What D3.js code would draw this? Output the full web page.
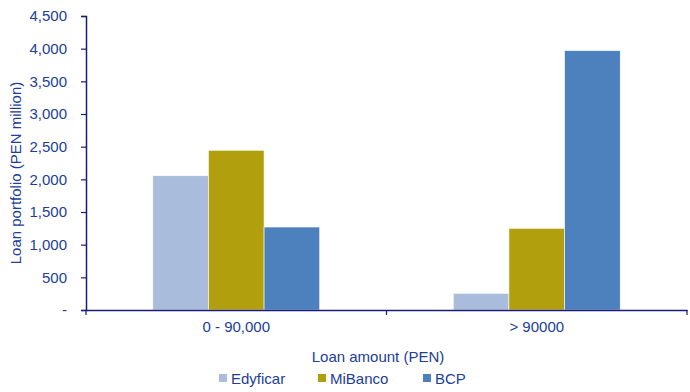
<!DOCTYPE html>
<html><head><meta charset="utf-8">
<script src="https://cdn.jsdelivr.net/npm/d3@7"></script>
<style>body{margin:0;background:#fff}svg{display:block;font-family:"Liberation Sans",Arial,sans-serif}</style>
</head><body><svg id="c" width="690" height="392"></svg>
<script>
const categories = ["0 - 90,000", "> 90000"];
const seriesNames = ["Edyficar", "MiBanco", "BCP"];
const edyficar = [2055, 255];
const mibanco = [2445, 1250];
const bcp = [1270, 3970];
const yTicks = [0, 500, 1000, 1500, 2000, 2500, 3000, 3500, 4000, 4500];
const colors = ["#A9BCDB", "#B19F0D", "#4D81BD"];
const textColor = "#203E98";
const axisColor = "#1A1A7A";
const fs = "15px";

const svg = d3.select("#c");
const m = {l: 86, r: 3, t: 16, b: 82};
const W = 690, H = 392;
const x = d3.scaleBand().domain(categories).range([m.l, W - m.r]).paddingInner(0).paddingOuter(0);
const y = d3.scaleLinear().domain([0, 4500]).range([H - m.b, m.t]);
const xs = d3.scaleBand().domain(seriesNames).range([0, x.bandwidth()]).paddingInner(0).paddingOuter(1.2);

const series = [edyficar, mibanco, bcp];
series.forEach((vals, si) => {
  svg.append("g").selectAll("rect").data(vals).join("rect")
    .attr("x", (d, i) => x(categories[i]) + xs(seriesNames[si]))
    .attr("y", d => y(d))
    .attr("width", xs.bandwidth())
    .attr("height", d => y(0) - y(d))
    .attr("fill", colors[si])
    .attr("stroke", "#fff").attr("stroke-width", 0.6);
});

const yAxis = svg.append("g").attr("transform", `translate(${m.l},0)`)
  .call(d3.axisLeft(y).tickValues(yTicks).tickSize(5).tickPadding(14)
    .tickFormat(d => d === 0 ? "-" : d3.format(",")(d)));
yAxis.select(".domain").attr("stroke", axisColor).attr("stroke-width", 1.5);
yAxis.selectAll(".tick line").attr("stroke", axisColor).attr("stroke-width", 1.2);
yAxis.selectAll("text").attr("fill", textColor).style("font-size", fs)
  .style("font-family", '"Liberation Sans",Arial,sans-serif');

const xAxis = svg.append("g").attr("transform", `translate(0,${y(0)})`)
  .call(d3.axisBottom(x).tickSize(0).tickPadding(11));
xAxis.select(".domain").attr("stroke", axisColor).attr("stroke-width", 1.5);
xAxis.selectAll("text").attr("fill", textColor).style("font-size", fs)
  .style("font-family", '"Liberation Sans",Arial,sans-serif');
const bounds = [m.l, x(categories[1]), W - m.r];
svg.append("g").selectAll("line").data(bounds).join("line")
  .attr("x1", d => d).attr("x2", d => d)
  .attr("y1", y(0)).attr("y2", y(0) + 5)
  .attr("stroke", axisColor).attr("stroke-width", 1.2);

svg.append("text").attr("transform", `translate(21,173) rotate(-90)`)
  .attr("text-anchor", "middle").attr("fill", textColor).style("font-size", fs)
  .text("Loan portfolio (PEN million)");

svg.append("text").attr("x", 378).attr("y", 362).attr("text-anchor", "middle")
  .attr("fill", textColor).style("font-size", fs).text("Loan amount (PEN)");

const legX = [219, 318, 423];
const leg = svg.append("g").selectAll("g").data(seriesNames).join("g")
  .attr("transform", (d, i) => `translate(${legX[i]},384)`);
leg.append("rect").attr("x", 0).attr("y", -10).attr("width", 8).attr("height", 8)
  .attr("fill", (d, i) => colors[i]);
leg.append("text").attr("x", 12).attr("y", 0).attr("fill", textColor)
  .style("font-size", fs).text(d => d);
</script></body></html>
